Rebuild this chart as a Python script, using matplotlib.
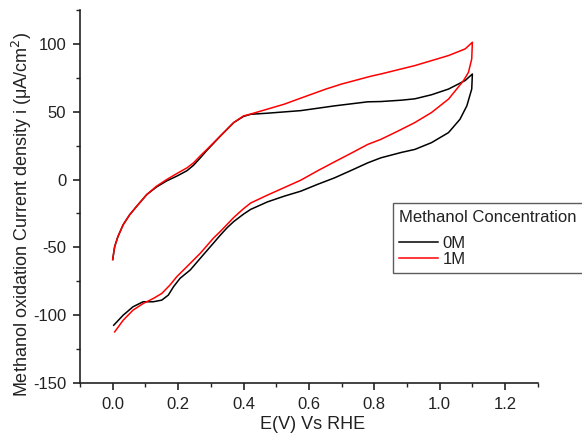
import numpy as np
import matplotlib
matplotlib.use("Agg")
import matplotlib.pyplot as plt
from matplotlib.ticker import MultipleLocator

plt.rcParams['font.family'] = ['Liberation Sans', 'DejaVu Sans']

# 0M forward / reverse scan
e0_fwd = [0.0, 0.003, 0.006, 0.016, 0.032, 0.052, 0.073, 0.104, 0.134, 0.165, 0.196, 0.227, 0.247, 0.268,
          0.288, 0.329, 0.37, 0.40, 0.422, 0.473, 0.575, 0.678, 0.78, 0.82, 0.883, 0.924, 0.975, 1.027,
          1.078, 1.10]
i0_fwd = [-59, -54, -49.4, -42, -33.3, -25.9, -19.8, -11.1, -5.5, -1, 2.5, 6.5, 10.5, 16,
          21.5, 32, 42, 46.5, 48.1, 48.9, 50.8, 54.3, 57.3, 57.5, 58.5, 59.5, 62.5, 66.7,
          73, 77.8]
e0_rev = [1.10, 1.099, 1.098, 1.083, 1.062, 1.027, 0.975, 0.924, 0.883, 0.82, 0.78, 0.73, 0.678, 0.627,
          0.575, 0.524, 0.473, 0.422, 0.40, 0.37, 0.35, 0.329, 0.308, 0.268, 0.237, 0.206, 0.186, 0.17,
          0.15, 0.124, 0.093, 0.062, 0.032, 0.003]
i0_rev = [77.8, 72, 66.7, 54.3, 44.4, 34.6, 27.2, 22.2, 20, 16, 12.3, 6.8, 1.2, -3.5,
          -8.6, -12.3, -16.5, -22, -25.5, -31, -35.5, -41, -46.9, -58, -66.7, -72.8, -79, -85.2,
          -88.9, -90.1, -90.1, -93.8, -100, -107.4]

# 1M forward / reverse scan
e1_fwd = [0.0, 0.003, 0.006, 0.016, 0.032, 0.052, 0.073, 0.104, 0.134, 0.165, 0.196, 0.227, 0.247, 0.268,
          0.288, 0.329, 0.37, 0.40, 0.422, 0.473, 0.524, 0.575, 0.652, 0.70, 0.79, 0.82, 0.924, 1.027,
          1.078, 1.10]
i1_fwd = [-59, -54, -49.4, -42, -33.3, -25.9, -19.8, -11.1, -4.9, 0, 4.4, 8.6, 12.3, 17.5,
          22.2, 32.1, 42, 46.9, 48.3, 51.9, 55.5, 60, 66.7, 70.4, 76.2, 77.8, 84, 91.4,
          96.3, 101.2]
e1_rev = [1.10, 1.099, 1.098, 1.088, 1.073, 1.052, 1.027, 0.975, 0.924, 0.873, 0.82, 0.78, 0.73, 0.678,
          0.627, 0.575, 0.524, 0.473, 0.422, 0.40, 0.37, 0.329, 0.308, 0.268, 0.227, 0.196, 0.175, 0.15,
          0.124, 0.093, 0.062, 0.032, 0.006]
i1_rev = [101.2, 95, 88.9, 79, 73, 66.7, 59.3, 49.4, 42, 35.8, 29.6, 25.9, 19.5, 13,
          6.5, -0.5, -6, -11.5, -17.3, -21.5, -28, -38.3, -43.2, -54.3, -64.2, -71.6, -77.8, -84,
          -87.7, -91.4, -96.3, -103.7, -112.3]

labels = ['0M', '1M']
colors = ['black', '#ff0000']

fig = plt.figure(figsize=(5.82, 4.34), dpi=100)
ax = fig.add_axes([0.1375, 0.1175, 0.7865, 0.8595])

ax.plot(e0_fwd + e0_rev, i0_fwd + i0_rev, color=colors[0], lw=1.1, label=labels[0])
ax.plot(e1_fwd + e1_rev, i1_fwd + i1_rev, color=colors[1], lw=1.1, label=labels[1])

ax.set_xlim(-0.1, 1.3)
ax.set_ylim(-150, 125)
ax.xaxis.set_minor_locator(MultipleLocator(0.1))
ax.yaxis.set_minor_locator(MultipleLocator(25))
ax.set_xticks([0.0, 0.2, 0.4, 0.6, 0.8, 1.0, 1.2])
ax.set_xticklabels(['0.0', '0.2', '0.4', '0.6', '0.8', '1.0', '1.2'])
ax.set_yticks([-150, -100, -50, 0, 50, 100])
ax.set_yticklabels(['-150', '-100', '-50', '0', '50', '100'])

for s in ['top', 'right']:
    ax.spines[s].set_visible(False)
for s in ['left', 'bottom']:
    ax.spines[s].set_linewidth(1.2)
    ax.spines[s].set_color('#222222')
ax.tick_params(which='major', direction='out', length=5, width=1.2, labelsize=12,
               colors='#222222', pad=5)
ax.tick_params(which='minor', direction='out', length=3, width=1.0, colors='#222222')

ax.set_xlabel('E(V) Vs RHE', fontsize=13, color='#222222')
ax.set_ylabel('Methanol oxidation Current density i (μA/cm$^2$)', fontsize=13, color='#222222')
ax.xaxis.set_label_coords(0.507, -0.088)
ax.yaxis.set_label_coords(-0.100, 0.453)

leg = ax.legend(title='Methanol Concentration', loc='upper left', bbox_to_anchor=(0.683, 0.4826),
                fontsize=12, title_fontsize=12, frameon=True, fancybox=False,
                handlelength=2.3, handletextpad=0.3, borderaxespad=0, borderpad=0.4,
                labelspacing=0.05, alignment='left')
leg._legend_box.sep = 8
leg.get_frame().set_edgecolor('#333333')
leg.get_frame().set_linewidth(1.0)
leg.get_title().set_color('#222222')
for t in leg.get_texts():
    t.set_color('#222222')

fig.savefig('out.png', dpi=100)
